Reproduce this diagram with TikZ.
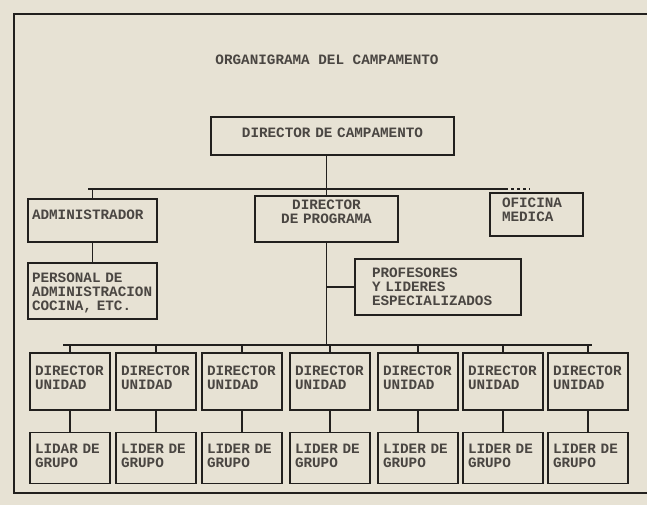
\documentclass[tikz,border=0pt]{standalone}
\usepackage{fontspec}
\newfontfamily\maquina{Liberation Mono}
\definecolor{paper}{RGB}{231,226,212}
\definecolor{ink}{RGB}{34,32,30}
\definecolor{typed}{RGB}{74,70,66}

\tikzset{every picture/.style={line width=1.1pt}}
\tikzset{
  typedtext/.style={font=\maquina\bfseries\fontsize{14.3}{14}\selectfont, text=typed, inner sep=0pt},
  box/.style={typedtext, draw=ink, line width=1.8pt, inner ysep=2pt},
  firstline/.style={text height=12pt, text depth=#1},
  unitbox/.style={box, text width=70pt, inner xsep=5pt, align=left},
  link/.style={draw=ink, line width=1.3pt},
  frame/.style={draw=ink, line width=2.8pt}
}

\begin{document}
\begin{tikzpicture}[x=1pt,y=1pt,yscale=-1]
\useasboundingbox (0,0) rectangle (647,505);
\fill[paper] (0,0) rectangle (647,505);

%Frame
\draw[frame] (647,14) -- (14,14) -- (14,493) -- (647,493);

% Text Node
\node[typedtext] (titulo) at (327,60) {ORGANIGRAMA DEL CAMPAMENTO};

%Boxes
\node[box, text width=233pt, inner xsep=5pt, align=center, minimum height=38pt, firstline=8.6pt] (camp) at (332.5,136) {DIRECTOR DE CAMPAMENTO};
\node[box, text width=121pt, inner xsep=4pt, align=left, minimum height=43pt, firstline=13.6pt] (admin) at (92.5,220.5) {ADMINISTRADOR};
\node[box, text width=131pt, inner xsep=6pt, align=center, minimum height=44pt, firstline=30.6pt] (prog) at (326.5,219) {DIRECTOR\\DE PROGRAMA};
\node[box, text width=69pt, inner xsep=12pt, align=left, minimum height=43pt, firstline=25.6pt] (ofic) at (536.5,214.5) {OFICINA\\MEDICA};
\node[box, text width=121pt, inner xsep=4pt, align=left, minimum height=56pt, firstline=28.6pt] (pers) at (92.5,291) {PERSONAL DE\\ADMINISTRACION\\COCINA, ETC.};
\node[box, text width=132pt, inner xsep=17pt, align=left, minimum height=56pt, firstline=30.6pt] (prof) at (438,287) {PROFESORES\\Y LIDERES\\ESPECIALIZADOS};

%Upper lines
\coordinate (busL) at (88,189);
\coordinate (busM) at (505,189);
\coordinate (busR) at (530,189);
\draw[link] (camp.south -| prog.north) -- (prog.north);
\draw[link] (busL) -- (busM);
\draw[link, dashed] (busM) -- (busR);
\draw[link] (admin.north |- busL) -- (admin.north);
\draw[link] (admin.south) -- (pers.north);
\draw[link] (prog.south |- prof.west) -- (prof.west);

%Unit columns
\coordinate (busBL) at (63,345);
\coordinate (busBR) at (592,345);
\draw[link] (prog.south) -- (prog.south |- busBL);
\draw[link] (busBL) -- (busBR);
\foreach \x/\lid [count=\i] in {70/LIDAR, 156/LIDER, 242/LIDER, 330/LIDER, 418/LIDER, 503/LIDER, 588/LIDER}{
  \node[unitbox, minimum height=57pt, firstline=23.6pt] (dir\i) at (\x,381.5) {DIRECTOR\\UNIDAD};
  \node[unitbox, minimum height=51pt, firstline=20.6pt] (lid\i) at (\x,458) {\lid{} DE\\GRUPO};
  \draw[link] (dir\i.north |- busBL) -- (dir\i.north);
  \draw[link] (dir\i.south) -- (lid\i.north);
}
\end{tikzpicture}
\end{document}
